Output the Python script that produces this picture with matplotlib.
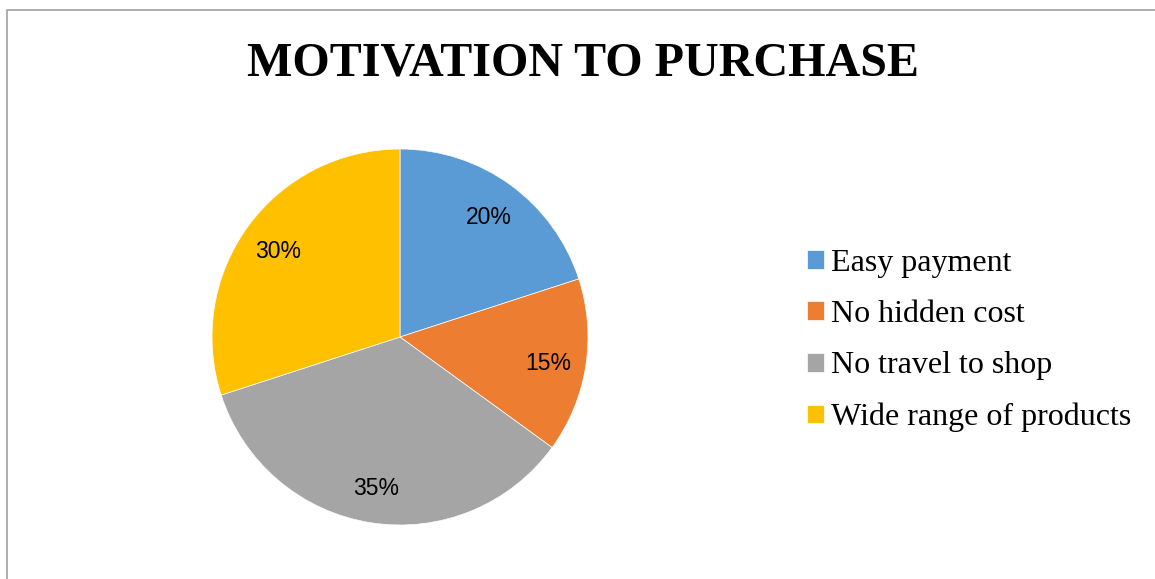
import matplotlib.pyplot as plt
from matplotlib.patches import Rectangle

# data
categories = ['Easy payment', 'No hidden cost', 'No travel to shop', 'Wide range of products']
shares = [20, 15, 35, 30]
colors = ['#5B9BD5', '#ED7D31', '#A5A5A5', '#FFC000']

W, H = 1155, 579
fig = plt.figure(figsize=(W / 100, H / 100), dpi=100)

# outer chart border (only top and left visible in the reference)
fig.patches.append(Rectangle((6.5 / W, -0.05), 1.2, (H - 9.5) / H + 0.05,
                             transform=fig.transFigure, fill=False,
                             edgecolor='#a0a0a0', lw=1.2))

fig.text(583 / W, 1 - 59 / H, 'MOTIVATION TO PURCHASE', ha='center', va='center_baseline',
         fontsize=34.6, fontweight='bold', family='Liberation Serif')

cx, cy, r = 400, 337, 188
ax = fig.add_axes([(cx - r) / W, (H - cy - r) / H, 2 * r / W, 2 * r / H])
wedges, texts, autotexts = ax.pie(shares, colors=colors, startangle=90, counterclock=False,
                                  autopct='%1.0f%%', pctdistance=0.80,
                                  wedgeprops=dict(edgecolor='white', linewidth=0.5),
                                  textprops=dict(fontsize=16.5, family='Liberation Sans'))
for t in autotexts:
    t.set_va('center_baseline')
ax.set_xlim(-1, 1)
ax.set_ylim(-1, 1)
ax.set_aspect('auto')

leg = fig.legend(wedges, categories, loc='center left',
                 bbox_to_anchor=(778 / W, 1 - 340.5 / H), frameon=False,
                 prop=dict(family='Liberation Serif', size=23),
                 handlelength=0.53, handleheight=0.53, handletextpad=0.22,
                 labelspacing=0.70)

fig.savefig('out.png', dpi=100)
